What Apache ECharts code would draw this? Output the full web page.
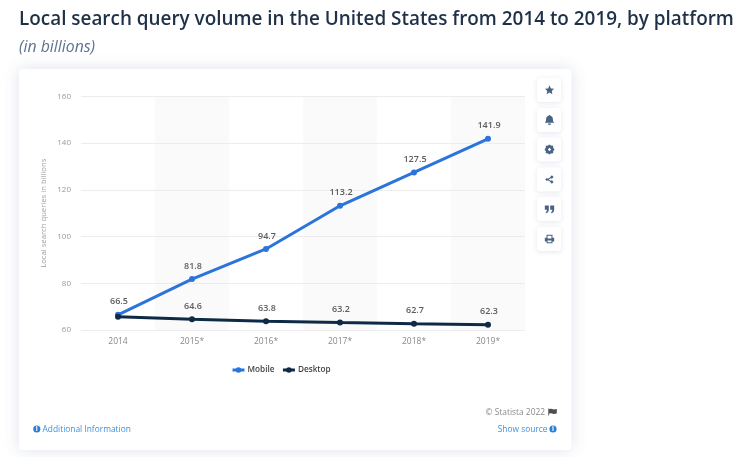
<!DOCTYPE html>
<html><head><meta charset="utf-8">
<style>html,body{margin:0;padding:0;background:#fff}#c{width:750px;height:457px}</style>
<script src="https://cdn.jsdelivr.net/npm/echarts@6/dist/echarts.min.js"></script>
</head><body><div id="c"></div>
<script>
const categories = ['2014','2015*','2016*','2017*','2018*','2019*'];
const mobile = [66.5,81.8,94.7,113.2,127.5,141.9];
const desktop = [65.7,64.6,63.8,63.2,62.7,62.3];
const yTicks = {min:60,max:160,interval:20};
const titleText = 'Local search query volume in the United States from 2014 to 2019, by platform';
const subtitleText = '(in billions)';
const yAxisName = 'Local search queries in billions';

const FONT = '"Open Sans", sans-serif';
const iconColor = '#4a6283';
const linkColor = '#3f8fdc';
const ICONS = [
 'M0,-5.6 L1.6,-1.9 L5.4,-1.5 L2.6,1.1 L3.4,5 L0,3 L-3.4,5 L-2.6,1.1 L-5.4,-1.5 L-1.6,-1.9 Z',
 'M0,-6 C.8,-6 1,-5.4 1,-5 C3,-4.5 4,-3 4,-1 C4,1.5 5,2.5 5.5,3.2 L-5.5,3.2 C-5,2.5 -4,1.5 -4,-1 C-4,-3 -3,-4.5 -1,-5 C-1,-5.4 -.8,-6 0,-6 Z M-1.8,4 L1.8,4 C1.6,5.2 .8,5.8 0,5.8 C-.8,5.8 -1.6,5.2 -1.8,4 Z',
 'M-1.2,-5.6 L1.2,-5.6 L1.6,-4.2 L3,-4.9 L4.7,-3.1 L4,-1.7 L5.5,-1.2 L5.5,1.2 L4,1.7 L4.7,3.1 L3,4.9 L1.6,4.2 L1.2,5.6 L-1.2,5.6 L-1.6,4.2 L-3,4.9 L-4.7,3.1 L-4,1.7 L-5.5,1.2 L-5.5,-1.2 L-4,-1.7 L-4.7,-3.1 L-3,-4.9 L-1.6,-4.2 Z M0,-2 L-2,0 L0,2 L2,0 Z',
 'M2.8,-5 L4.8,-3 L2.8,-1 L1.4,-1.5 L-1,0 L1.4,1.5 L2.8,1 L4.8,3 L2.8,5 L.8,3 L.9,2.6 L-1.8,.9 L-3.2,1.8 L-5,0 L-3.2,-1.8 L-1.8,-.9 L.9,-2.6 L.8,-3 Z',
 'M-5.5,-4 L-.8,-4 L-.8,.5 C-.8,3 -2,4.5 -4,5 L-4.5,3.6 C-3.4,3.2 -3,2.4 -3,1 L-5.5,1 Z M.8,-4 L5.5,-4 L5.5,.5 C5.5,3 4.3,4.5 2.3,5 L1.8,3.6 C2.9,3.2 3.3,2.4 3.3,1 L.8,1 Z',
 'M-3.5,-5 L3.5,-5 L3.5,-1.5 L5.5,-1.5 L5.5,3 L3.5,3 L3.5,5 L-3.5,5 L-3.5,3 L-5.5,3 L-5.5,-1.5 L-3.5,-1.5 Z M-2.3,-3.9 L-2.3,-.5 L2.3,-.5 L2.3,-3.9 Z M-2.3,1.8 L-2.3,3.9 L2.3,3.9 L2.3,1.8 Z'
];
const FLAG = 'M-4.2,-3.4 L-3.4,-3.4 L-3.4,-3 L-1,-3.2 L1,-2.4 L4.3,-3 L4.3,1.5 L1,2 L-1,1.2 L-3.4,1.5 L-3.4,3.6 L-4.2,3.6 Z';
ICONS.forEach((d,i)=>echarts.graphic.registerShape('icon'+i,echarts.graphic.extendPath(d,{})));
echarts.graphic.registerShape('flagIcon',echarts.graphic.extendPath(FLAG,{}));

const buttonTops = [78,108,137.5,167.5,197,227];
const graphics = [
 {type:'rect',z:-10,shape:{x:19,y:69,width:552.5,height:381,r:4},
  style:{fill:'#fff',shadowBlur:16,shadowColor:'rgba(60,85,130,0.17)',shadowOffsetX:0,shadowOffsetY:0}}
];
buttonTops.forEach((t,i)=>{
 graphics.push({type:'rect',z:5,shape:{x:537,y:t,width:24,height:24,r:3},
  style:{fill:'#fff',shadowBlur:5,shadowColor:'rgba(60,85,130,0.14)',shadowOffsetY:1}});
 graphics.push({type:'icon'+i,z:6,x:549.5,y:t+12,scaleX:.85,scaleY:.85,
  style:{fill:iconColor,fillRule:'evenodd'}});
});
const info = (x,y)=>[
 {type:'circle',z:6,shape:{cx:x,cy:y,r:3.6},style:{fill:'#2a7fd4'}},
 {type:'text',z:7,x:x,y:y,style:{text:'i',fill:'#fff',font:'bold 6.5px '+FONT,align:'center',verticalAlign:'middle'}}
];
graphics.push(...info(36.8,429),...info(553,429));
graphics.push(
 {type:'text',z:6,x:42.5,y:429.5,style:{text:'Additional Information',fill:linkColor,font:'8.4px '+FONT,verticalAlign:'middle'}},
 {type:'text',z:6,x:547.5,y:429.5,style:{text:'Show source',fill:linkColor,font:'8.4px '+FONT,align:'right',verticalAlign:'middle'}},
 {type:'text',z:6,x:545,y:412.5,style:{text:'© Statista 2022',fill:'#8a8a8a',font:'8.4px '+FONT,align:'right',verticalAlign:'middle'}},
 {type:'flagIcon',z:6,x:552.5,y:412,style:{fill:'#4d4d4d'}}
);
const labelStyle = {show:true,position:'top',distance:5.5,offset:[1,0],color:'#5c5c5c',fontFamily:FONT,fontSize:9,fontWeight:600,
 formatter:p=>p.value.toFixed(1)};
const chart = echarts.init(document.getElementById('c'),null,{renderer:'canvas'});
chart.setOption({
 animation:false,backgroundColor:'#fff',
 title:[
  {text:titleText,left:14,top:5,textStyle:{fontFamily:FONT,fontSize:18.9,fontWeight:600,color:'#1f3148'}},
  {text:subtitleText,left:14,top:34,textStyle:{fontFamily:FONT,fontSize:15.8,fontStyle:'italic',fontWeight:400,color:'#5b7390'}}
 ],
 grid:{left:81,right:225,top:96.5,bottom:127},
 legend:{left:226,top:361,itemWidth:12,itemHeight:7,itemGap:7,data:['Mobile','Desktop'],
  lineStyle:{width:3},
  textStyle:{fontFamily:FONT,fontSize:8.2,fontWeight:600,color:'#444',padding:[0,0,0,-2]}},
 xAxis:{type:'category',data:categories,boundaryGap:true,z:0,
  axisLine:{show:false},axisTick:{show:false},
  axisLabel:{color:'#888',fontFamily:FONT,fontSize:8.5,margin:7},
  splitArea:{show:true,areaStyle:{color:['rgba(255,255,255,0)','#fafafb']}},splitLine:{show:false}},
 yAxis:{type:'value',min:yTicks.min,max:yTicks.max,interval:yTicks.interval,z:1,
  name:yAxisName,nameLocation:'middle',nameGap:33,nameRotate:90,nameMoveOverlap:false,
  nameTextStyle:{color:'#a0a0a0',fontFamily:FONT,fontSize:7.7},
  axisLine:{show:false},axisTick:{show:false},
  axisLabel:{color:'#999',fontFamily:FONT,fontSize:8,margin:10},
  splitLine:{show:true,lineStyle:{color:'#ececec',width:1}}},
 series:[
  {name:'Mobile',type:'line',data:mobile,color:'#2a74dc',symbol:'circle',symbolSize:6,z:3,
   lineStyle:{width:3,color:'#2a74dc'},itemStyle:{color:'#2a74dc'},label:labelStyle},
  {name:'Desktop',type:'line',color:'#0e2a47',symbol:'circle',symbolSize:6,z:4,
   data:desktop.map((v,i)=>i===0?{value:v,label:{show:false}}:v),
   lineStyle:{width:3,color:'#0e2a47'},itemStyle:{color:'#0e2a47'},label:labelStyle}
 ],
 graphic:graphics
});
</script></body></html>
